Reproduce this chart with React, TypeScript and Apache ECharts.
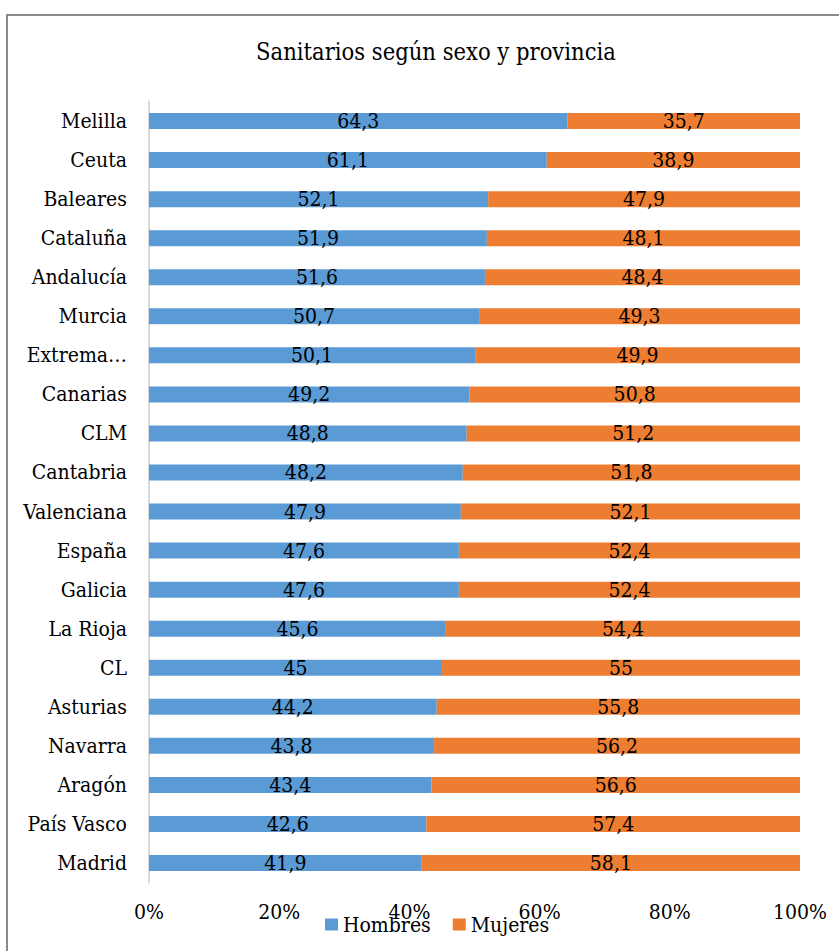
import React, { useEffect, useRef } from "react";
import * as echarts from "echarts";

const categories = [
  "Melilla", "Ceuta", "Baleares", "Cataluña", "Andalucía", "Murcia", "Extremadura",
  "Canarias", "CLM", "Cantabria", "Valenciana", "España", "Galicia", "La Rioja",
  "CL", "Asturias", "Navarra", "Aragón", "País Vasco", "Madrid",
];
const hombres = [64.3, 61.1, 52.1, 51.9, 51.6, 50.7, 50.1, 49.2, 48.8, 48.2, 47.9, 47.6, 47.6, 45.6, 45, 44.2, 43.8, 43.4, 42.6, 41.9];
const mujeres = [35.7, 38.9, 47.9, 48.1, 48.4, 49.3, 49.9, 50.8, 51.2, 51.8, 52.1, 52.4, 52.4, 54.4, 55, 55.8, 56.2, 56.6, 57.4, 58.1];
const xTicks = [0, 20, 40, 60, 80, 100];

const FONT = "DejaVu Serif Condensed";

export default function App() {
  const ref = useRef<HTMLDivElement>(null);
  useEffect(() => {
    if (!ref.current) return;
    const chart = echarts.init(ref.current, null, { renderer: "svg" });
    const labelFmt = (p: any) => String(p.value).replace(".", ",");
    chart.setOption({
      animation: false,
      backgroundColor: "#ffffff",
      title: {
        text: "Sanitarios según sexo y provincia",
        left: 431,
        textAlign: "center",
        top: 35,
        textStyle: { fontFamily: FONT, fontSize: 23.5, fontWeight: "normal", color: "#000" },
      },
      graphic: [
        {
          type: "rect",
          shape: { x: 7, y: 15, width: 900, height: 1000 },
          style: { fill: "none", stroke: "#8a8a8a", lineWidth: 2 },
          silent: true,
        },
      ],
      legend: {
        left: 325,
        top: 914,
        padding: 0,
        itemWidth: 13,
        itemHeight: 12,
        itemGap: 22,
        icon: "rect",
        textStyle: { fontFamily: FONT, fontSize: 21, color: "#000" },
        data: ["Hombres", "Mujeres"],
      },
      grid: { left: 149, right: 39, top: 101.5, bottom: 68.5, containLabel: false },
      xAxis: {
        type: "value",
        min: xTicks[0],
        max: xTicks[xTicks.length - 1],
        interval: 20,
        axisLine: { show: false },
        axisTick: { show: false },
        splitLine: { show: false },
        axisLabel: {
          formatter: "{value}%",
          fontFamily: FONT,
          fontSize: 21,
          color: "#000",
          margin: 19,
        },
      },
      yAxis: {
        type: "category",
        inverse: true,
        data: categories,
        axisLine: { show: true, lineStyle: { color: "#d9d9d9", width: 2 } },
        axisTick: { show: false },
        axisLabel: {
          fontFamily: FONT,
          fontSize: 21,
          color: "#000",
          margin: 22,
          width: 112,
          overflow: "truncate",
          ellipsis: "…",
        },
      },
      series: [
        {
          name: "Hombres",
          type: "bar",
          stack: "total",
          barWidth: 16,
          data: hombres,
          itemStyle: { color: "#5b9bd5" },
          label: { show: true, position: "inside", color: "#000", fontFamily: FONT, fontSize: 21, formatter: labelFmt },
        },
        {
          name: "Mujeres",
          type: "bar",
          stack: "total",
          barWidth: 16,
          data: mujeres,
          itemStyle: { color: "#ed7d31" },
          label: { show: true, position: "inside", color: "#000", fontFamily: FONT, fontSize: 21, formatter: labelFmt },
        },
      ],
    });
    return () => chart.dispose();
  }, []);
  return (
    <div
      ref={ref}
      style={{ position: "fixed", left: 0, top: 0, width: 839, height: 951 }}
    />
  );
}
